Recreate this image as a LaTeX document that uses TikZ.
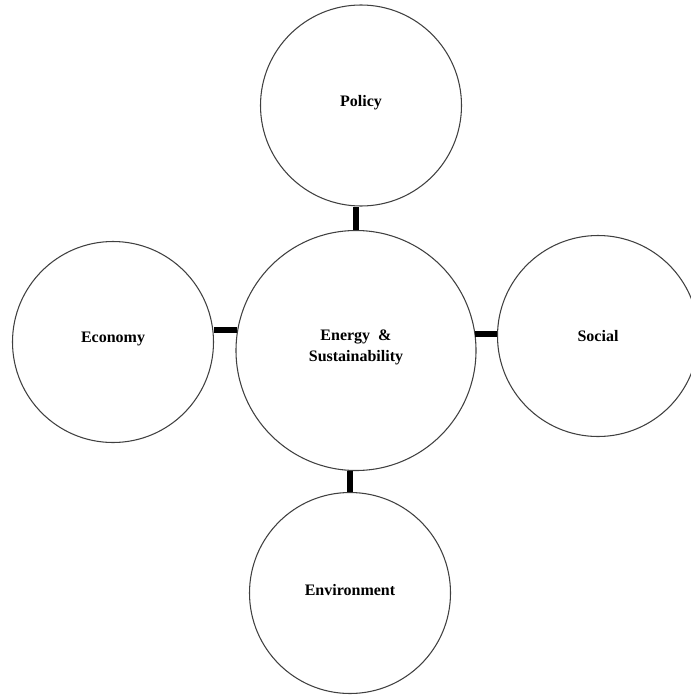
\documentclass[tikz,border=0pt]{standalone}
\usepackage{fontspec}
\setmainfont{Liberation Serif}
\usepackage{tikz}

\begin{document}
\begin{tikzpicture}[x=0.75pt,y=-0.75pt]
\tikzset{topic/.style = {shape=circle,draw=black!75,line width=0.8pt,inner sep=0pt,minimum size=201pt*0.75,text depth=7pt,font=\fontsize{12}{16}\selectfont\bfseries,align=center}}
\tikzset{bar/.style = {-,line width=4.6pt,black}}
\useasboundingbox (0,0) rectangle (691,696);
\node[topic] (pol) at  (361,105.5) {Policy};
\node[topic,minimum size=240pt*0.75] (core) at  (356,350.5) {Energy~~\&\\Sustainability};
\node[topic] (eco) at  (113,342) {Economy};
\node[topic,text depth=0pt] (soc) at  (598,336) {Social};
\node[topic,text depth=4pt] (env) at  (350,593) {Environment};

\draw[bar] (core.north) to (core.north |- pol.south);
\draw[bar] (core.170) to (core.170 -| eco.east);
\draw[bar] (core.8) to (core.8 -| soc.west);
\draw[bar] (core.-93.3) to (core.-93.3 |- env.north);
\end{tikzpicture}
\end{document}
